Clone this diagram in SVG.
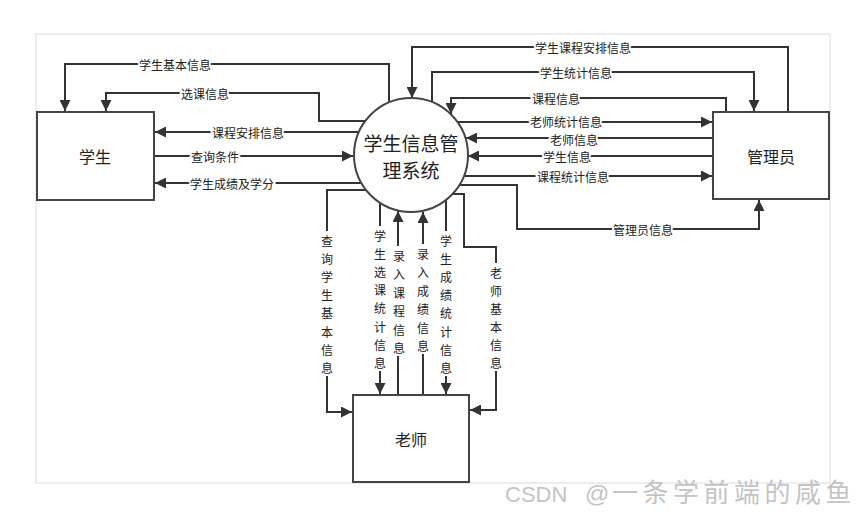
<svg xmlns="http://www.w3.org/2000/svg" width="865" height="516" viewBox="0 0 865 516">
<style>
.frame{fill:#fff;stroke:#dcdcdc;stroke-width:1}
.box{fill:#fff;stroke:#444;stroke-width:2}
.conn{fill:none;stroke:#333;stroke-width:2;marker-end:url(#arr)}
.bg{fill:#fff}
.nt{font-family:"Noto Sans CJK SC","Liberation Sans",sans-serif;font-size:16px;fill:#222;text-anchor:middle;dominant-baseline:central}
.ct{font-family:"Noto Sans CJK SC","Liberation Sans",sans-serif;font-size:19px;fill:#222;text-anchor:middle;dominant-baseline:central}
.lbl{font-family:"Noto Sans CJK SC","Liberation Sans",sans-serif;font-size:12px;fill:#222;stroke:#fff;stroke-width:4;paint-order:stroke;stroke-linejoin:round;text-anchor:middle;dominant-baseline:central}
.vl{font-family:"Noto Sans CJK SC","Liberation Sans",sans-serif;font-size:12px;fill:#222;text-anchor:middle;dominant-baseline:central}
.wm{font-family:"Liberation Sans","Noto Sans CJK SC",sans-serif;fill:#c4c4c4}
</style>
<defs>
<marker id="arr" markerUnits="userSpaceOnUse" markerWidth="11" markerHeight="11" refX="11" refY="5.5" orient="auto">
<path d="M0,0 L11,5.5 L0,11 z" fill="#333"/>
</marker>
</defs>
<rect class="frame" x="36" y="34" width="794" height="449"/>

<g id="connectors">
<path class="conn" d="M389,102 V64 H65 V111"/>
<path class="conn" d="M365,121 H319 V93 H106 V111"/>
<path class="conn" d="M359,132 H155"/>
<path class="conn" d="M154,156 H353"/>
<path class="conn" d="M361,183 H155"/>
<path class="conn" d="M366,190 H327 V412 H352"/>
<path class="conn" d="M380,203 V394"/>
<path class="conn" d="M398,395 V211"/>
<path class="conn" d="M423,395 V212"/>
<path class="conn" d="M446,200 V394"/>
<path class="conn" d="M453,194 H464 V247 H496 V410 H470"/>
<path class="conn" d="M788,112 V47 H412 V98"/>
<path class="conn" d="M432,102 V72 H754 V111"/>
<path class="conn" d="M726,112 V98 H451 V114"/>
<path class="conn" d="M458,122 H712"/>
<path class="conn" d="M713,138 H466"/>
<path class="conn" d="M713,156 H468"/>
<path class="conn" d="M464,176 H712"/>
<path class="conn" d="M459,185 H517 V229 H759 V200"/>

<text class="lbl" x="175" y="64">学生基本信息</text>
<text class="lbl" x="205" y="93">选课信息</text>
<text class="lbl" x="248" y="132">课程安排信息</text>
<text class="lbl" x="215" y="156">查询条件</text>
<text class="lbl" x="232" y="183">学生成绩及学分</text>
<text class="lbl" x="583" y="47">学生课程安排信息</text>
<text class="lbl" x="576" y="72">学生统计信息</text>
<text class="lbl" x="556" y="98">课程信息</text>
<text class="lbl" x="566" y="121">老师统计信息</text>
<text class="lbl" x="574" y="139">老师信息</text>
<text class="lbl" x="567" y="156">学生信息</text>
<text class="lbl" x="573" y="176">课程统计信息</text>
<text class="lbl" x="643" y="229">管理员信息</text>

<rect class="bg" x="320" y="231" width="14" height="145"/>
<rect class="bg" x="373" y="226" width="14" height="145"/>
<rect class="bg" x="392" y="246" width="14" height="110"/>
<rect class="bg" x="416" y="244" width="14" height="110"/>
<rect class="bg" x="439" y="231" width="14" height="145"/>
<rect class="bg" x="489" y="263" width="14" height="108"/>
<text class="vl"><tspan x="327" y="240">查</tspan><tspan x="327" y="258">询</tspan><tspan x="327" y="276">学</tspan><tspan x="327" y="294">生</tspan><tspan x="327" y="312">基</tspan><tspan x="327" y="331">本</tspan><tspan x="327" y="349">信</tspan><tspan x="327" y="367">息</tspan></text>
<text class="vl"><tspan x="380" y="235">学</tspan><tspan x="380" y="253">生</tspan><tspan x="380" y="271">选</tspan><tspan x="380" y="289">课</tspan><tspan x="380" y="307">统</tspan><tspan x="380" y="326">计</tspan><tspan x="380" y="344">信</tspan><tspan x="380" y="362">息</tspan></text>
<text class="vl"><tspan x="399" y="255">录</tspan><tspan x="399" y="273">入</tspan><tspan x="399" y="292">课</tspan><tspan x="399" y="310">程</tspan><tspan x="399" y="329">信</tspan><tspan x="399" y="347">息</tspan></text>
<text class="vl"><tspan x="423" y="253">录</tspan><tspan x="423" y="271">入</tspan><tspan x="423" y="290">成</tspan><tspan x="423" y="308">绩</tspan><tspan x="423" y="327">信</tspan><tspan x="423" y="345">息</tspan></text>
<text class="vl"><tspan x="446" y="240">学</tspan><tspan x="446" y="258">生</tspan><tspan x="446" y="276">成</tspan><tspan x="446" y="294">绩</tspan><tspan x="446" y="312">统</tspan><tspan x="446" y="331">计</tspan><tspan x="446" y="349">信</tspan><tspan x="446" y="367">息</tspan></text>
<text class="vl"><tspan x="496" y="272">老</tspan><tspan x="496" y="290">师</tspan><tspan x="496" y="308">基</tspan><tspan x="496" y="326">本</tspan><tspan x="496" y="344">信</tspan><tspan x="496" y="362">息</tspan></text>
</g>

<g id="student">
<rect class="box" x="37" y="112" width="117" height="88"/>
<text class="nt" x="95" y="156">学生</text>
</g>
<g id="system">
<circle cx="411" cy="155" r="57" fill="#fff" stroke="#444" stroke-width="2"/>
<text class="ct" x="411" y="142">学生信息管</text>
<text class="ct" x="411" y="169">理系统</text>
</g>
<g id="admin">
<rect class="box" x="713" y="112" width="116" height="87"/>
<text class="nt" x="771" y="156">管理员</text>
</g>
<g id="teacher">
<rect class="box" x="353" y="395" width="116" height="87"/>
<text class="nt" x="411" y="439">老师</text>
</g>

<text class="wm" y="502"><tspan x="505" font-size="22">CSDN</tspan><tspan x="585" font-size="24">@</tspan><tspan x="612" font-size="26" letter-spacing="4.5">一条学前端的咸鱼</tspan></text>
</svg>
